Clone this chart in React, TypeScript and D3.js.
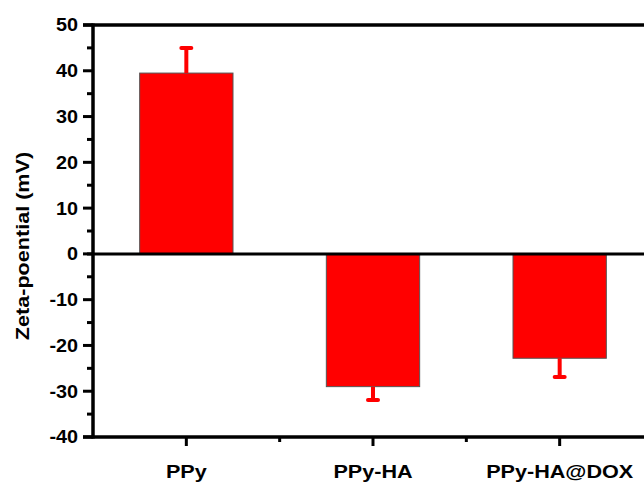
import React, { useRef, useEffect } from 'react';
import * as d3 from 'd3';

const categories = ['PPy', 'PPy-HA', 'PPy-HA@DOX'];
const values = [39.5, -29, -22.8];
const errors = [5.5, 2.9, 4.1];
const yTicks = [-40, -30, -20, -10, 0, 10, 20, 30, 40, 50];

const App = () => {
  const ref = useRef<SVGSVGElement>(null);

  useEffect(() => {
    const svg = d3.select(ref.current);
    svg.selectAll('*').remove();

    const left = 93;
    const top = 25;
    const bottom = 437;

    const x = d3.scaleBand()
      .domain(categories)
      .range([left, 653])
      .paddingInner(0.5)
      .paddingOuter(0.25);

    const y = d3.scaleLinear().domain([-40, 50]).range([bottom, top]);

    const font = 'Arial, "Liberation Sans", sans-serif';

    // bars
    svg.append('g')
      .selectAll('rect')
      .data(values)
      .join('rect')
      .attr('x', (d, i) => x(categories[i]))
      .attr('width', x.bandwidth())
      .attr('y', d => y(Math.max(0, d)))
      .attr('height', d => Math.abs(y(d) - y(0)))
      .attr('fill', '#ff0000')
      .attr('stroke', '#555')
      .attr('stroke-width', 1);

    // error bars, one-sided away from zero
    const eb = svg.append('g').attr('stroke', '#ff0000').attr('stroke-linecap', 'round');
    values.forEach((v, i) => {
      const cx = x(categories[i]) + x.bandwidth() / 2;
      const end = v + Math.sign(v) * errors[i];
      eb.append('line')
        .attr('x1', cx).attr('x2', cx)
        .attr('y1', y(v)).attr('y2', y(end))
        .attr('stroke-width', 4).attr('stroke-linecap', 'butt');
      eb.append('line')
        .attr('x1', cx - 5).attr('x2', cx + 5)
        .attr('y1', y(end)).attr('y2', y(end))
        .attr('stroke-width', 4);
    });

    // zero line
    svg.append('line')
      .attr('x1', left - 6).attr('x2', 644)
      .attr('y1', y(0)).attr('y2', y(0))
      .attr('stroke', '#000').attr('stroke-width', 3);

    // top and bottom frame lines
    [top, bottom].forEach(yy => {
      svg.append('line')
        .attr('x1', left - 10).attr('x2', 644)
        .attr('y1', yy).attr('y2', yy)
        .attr('stroke', '#000').attr('stroke-width', 3.5);
    });

    // y axis
    const yAxis = svg.append('g').attr('transform', `translate(${left},0)`);
    yAxis.append('line')
      .attr('x1', 0).attr('x2', 0)
      .attr('y1', top - 1.5).attr('y2', bottom + 1.5)
      .attr('stroke', '#000').attr('stroke-width', 3.5);
    yAxis.selectAll('.major')
      .data(yTicks)
      .join('line')
      .attr('x1', -10).attr('x2', 0)
      .attr('y1', d => y(d)).attr('y2', d => y(d))
      .attr('stroke', '#000').attr('stroke-width', 3);
    yAxis.selectAll('.minor')
      .data(d3.range(-35, 50, 10))
      .join('line')
      .attr('x1', -6).attr('x2', 0)
      .attr('y1', d => y(d)).attr('y2', d => y(d))
      .attr('stroke', '#000').attr('stroke-width', 3);
    yAxis.selectAll('text')
      .data(yTicks)
      .join('text')
      .attr('transform', d => `translate(-15,${y(d)}) scale(1.1,1)`)
      .attr('dy', '0.36em')
      .attr('text-anchor', 'end')
      .attr('font-family', font)
      .attr('font-weight', 'bold')
      .attr('font-size', 18)
      .text(d => d);

    // x ticks
    const xAxis = svg.append('g').attr('transform', `translate(0,${bottom})`);
    xAxis.selectAll('.major')
      .data(categories)
      .join('line')
      .attr('x1', d => x(d) + x.bandwidth() / 2)
      .attr('x2', d => x(d) + x.bandwidth() / 2)
      .attr('y1', 0).attr('y2', 9)
      .attr('stroke', '#000').attr('stroke-width', 3);
    xAxis.selectAll('.minor')
      .data(categories.slice(1))
      .join('line')
      .attr('x1', d => x(d) - x.step() * 0.25)
      .attr('x2', d => x(d) - x.step() * 0.25)
      .attr('y1', 0).attr('y2', 5)
      .attr('stroke', '#000').attr('stroke-width', 3);
    xAxis.selectAll('text')
      .data(categories)
      .join('text')
      .attr('transform', d => `translate(${x(d) + x.bandwidth() / 2},41) scale(1.2,1)`)
      .attr('text-anchor', 'middle')
      .attr('font-family', font)
      .attr('font-weight', 'bold')
      .attr('font-size', 18)
      .text(d => d);

    // y label
    svg.append('text')
      .attr('transform', 'translate(29,246) rotate(-90) scale(1.2,1)')
      .attr('text-anchor', 'middle')
      .attr('font-family', font)
      .attr('font-weight', 'bold')
      .attr('font-size', 18)
      .text('Zeta-poential (mV)');
  }, []);

  return (
    <div style={{ position: 'fixed', left: 0, top: 0, width: 644, height: 485, background: '#fff' }}>
      <svg ref={ref} width={644} height={485} />
    </div>
  );
};

export default App;
